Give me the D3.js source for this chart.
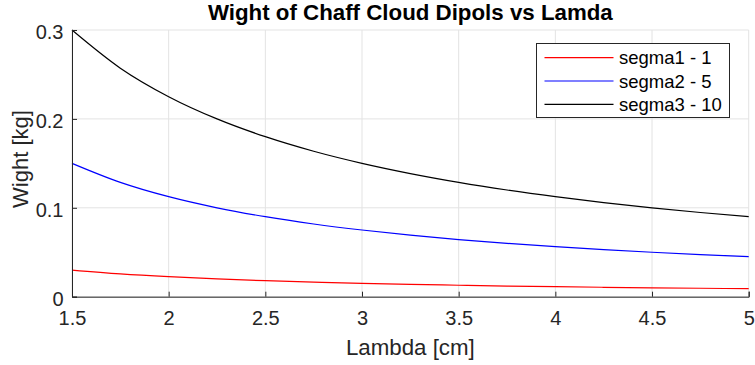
<!DOCTYPE html>
<html>
<head>
<meta charset="utf-8">
<script src="https://cdn.jsdelivr.net/npm/d3@7"></script>
<style>
  html, body { margin: 0; padding: 0; background: #fff; }
  svg { display: block; font-family: "Liberation Sans", Arial, Helvetica, sans-serif; }
</style>
</head>
<body>
<svg id="chart" width="755" height="365"></svg>
<script>
// Wavelength samples [cm]
const lambda = [1.5, 1.75, 2, 2.25, 2.5, 2.75, 3, 3.25, 3.5, 3.75, 4, 4.25, 4.5, 4.75, 5];
// Dipole cloud weight [kg] per sigma setting
const segma1 = [0.030, 0.0257, 0.0225, 0.0200, 0.0180, 0.0164, 0.0150, 0.0138, 0.0129, 0.0120, 0.01125, 0.0106, 0.0100, 0.0095, 0.0090];
const segma2 = [0.150, 0.1286, 0.1125, 0.1000, 0.0900, 0.0818, 0.0750, 0.0692, 0.0643, 0.0600, 0.05625, 0.0529, 0.0500, 0.0474, 0.0450];
const segma3 = [0.300, 0.2571, 0.2250, 0.2000, 0.1800, 0.1636, 0.1500, 0.1385, 0.1286, 0.1200, 0.1125, 0.1059, 0.1000, 0.0947, 0.0900];
const seriesNames = ["segma1 - 1", "segma2 - 5", "segma3 - 10"];
const seriesColors = ["#ff0000", "#0000ff", "#000000"];
const xTicks = [1.5, 2, 2.5, 3, 3.5, 4, 4.5, 5];
const yTicks = [0, 0.1, 0.2, 0.3];

const svg = d3.select("#chart");
const W = 755, H = 365;
const m = { left: 72, right: 6.3, top: 30, bottom: 68.3 };
const x = d3.scaleLinear().domain([1.5, 5]).range([m.left, W - m.right]);
const y = d3.scaleLinear().domain([0, 0.3]).range([H - m.bottom, m.top]);
const axisColor = "#262626";
const fontFam = "'Liberation Sans', Arial, sans-serif";

// grid
const grid = svg.append("g");
grid.selectAll("line.gx").data(xTicks).join("line")
  .attr("x1", d => x(d)).attr("x2", d => x(d))
  .attr("y1", y(0)).attr("y2", y(0.3))
  .attr("stroke", "#e3e3e3").attr("stroke-width", 1);
grid.selectAll("line.gy").data(yTicks).join("line")
  .attr("x1", x(1.5)).attr("x2", x(5))
  .attr("y1", d => y(d)).attr("y2", d => y(d))
  .attr("stroke", "#e3e3e3").attr("stroke-width", 1);

// curves
const line = d3.line().x((d, i) => x(lambda[i])).y(d => y(d)).curve(d3.curveMonotoneX);
[segma1, segma2, segma3].forEach((s, k) => {
  svg.append("path").datum(s)
    .attr("fill", "none")
    .attr("stroke", seriesColors[k])
    .attr("stroke-width", 1.2)
    .attr("d", line);
});

// axes with inward ticks
const xAxis = svg.append("g").attr("transform", `translate(0,${y(0)})`)
  .call(d3.axisBottom(x).tickValues(xTicks).tickSize(-5).tickFormat(d3.format("")));
const yAxis = svg.append("g").attr("transform", `translate(${x(1.5)},0)`)
  .call(d3.axisLeft(y).tickValues(yTicks).tickSize(-5).tickPadding(8.5)
    .tickFormat(d => d === 0 ? "0" : d3.format(".1f")(d)));
[xAxis, yAxis].forEach(a => {
  a.select(".domain").attr("stroke", axisColor).attr("stroke-width", 1);
  a.selectAll(".tick line").attr("stroke", axisColor);
  a.selectAll(".tick text").attr("fill", axisColor)
    .style("font-size", "20px").style("font-family", fontFam);
});
xAxis.selectAll(".tick text").attr("y", 28.3).attr("dy", 0);
yAxis.selectAll(".tick text").attr("dy", "0.42em");

// title and axis labels
svg.append("text").attr("x", (x(1.5) + x(5)) / 2).attr("y", 20)
  .attr("text-anchor", "middle").attr("font-weight", "bold").attr("font-size", "22.3px")
  .attr("fill", "#000").text("Wight of Chaff Cloud Dipols vs Lamda");
svg.append("text").attr("x", (x(1.5) + x(5)) / 2).attr("y", 355)
  .attr("text-anchor", "middle").attr("font-size", "22.3px")
  .attr("fill", axisColor).text("Lambda [cm]");
svg.append("text").attr("transform", `translate(28,159) rotate(-90)`)
  .attr("text-anchor", "middle").attr("font-size", "22px")
  .attr("fill", axisColor).text("Wight [kg]");

// legend
const lg = svg.append("g").attr("transform", "translate(536.5,43.5)");
lg.append("rect").attr("width", 193).attr("height", 74)
  .attr("fill", "#fff").attr("stroke", axisColor).attr("stroke-width", 1);
seriesNames.forEach((n, k) => {
  const yy = 14.2 + k * 23.3;
  lg.append("line").attr("x1", 8).attr("x2", 77).attr("y1", yy).attr("y2", yy)
    .attr("stroke", seriesColors[k]).attr("stroke-width", 1.2);
  lg.append("text").attr("x", 82.5).attr("y", yy).attr("dy", "0.36em")
    .attr("font-size", "18.5px").attr("fill", "#000").text(n);
});
</script>
</body>
</html>
